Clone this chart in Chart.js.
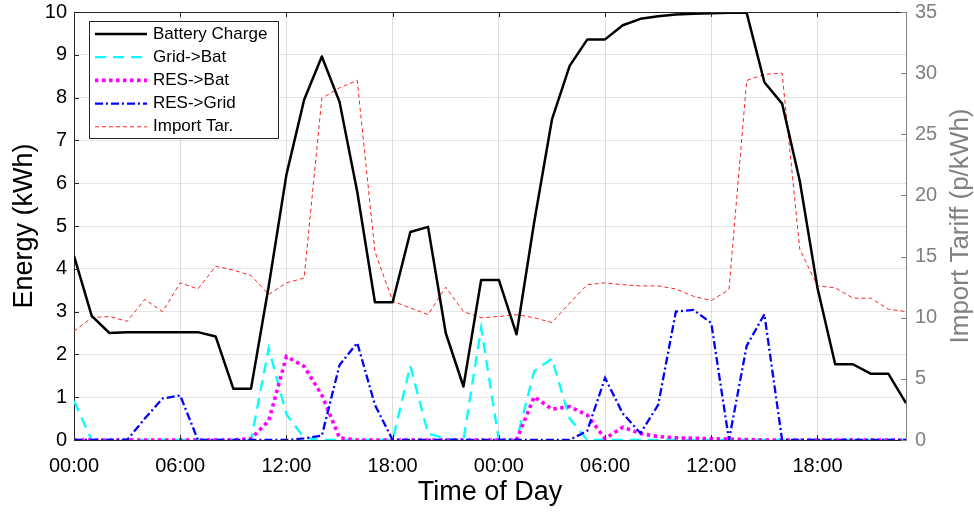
<!DOCTYPE html>
<html>
<head>
<meta charset="utf-8">
<title>Battery schedule</title>
<script src="https://cdn.jsdelivr.net/npm/chart.js@4.4.1/dist/chart.umd.min.js"></script>
<style>
  html, body { margin: 0; padding: 0; background: #fff; }
  #wrap { width: 974px; height: 512px; }
</style>
</head>
<body>
<div id="wrap"><canvas id="chart" width="974" height="512"></canvas></div>
<script>
// --------------------------------------------------------------------------
// Data (hourly, two days)
// --------------------------------------------------------------------------
const hours = Array.from({ length: 48 }, (_, h) => h);
const hourTicks = [0, 6, 12, 18, 24, 30, 36, 42];
const tickLabels = ['00:00', '06:00', '12:00', '18:00', '00:00', '06:00', '12:00', '18:00'];

const batteryCharge = [
  4.3, 2.9, 2.5, 2.52, 2.52, 2.52, 2.52, 2.52, 2.42, 1.2, 1.2, 3.6,
  6.2, 7.95, 8.96, 7.9, 5.8, 3.22, 3.22, 4.86, 4.98, 2.5, 1.25, 3.74,
  3.74, 2.47, 5.1, 7.49, 8.74, 9.36, 9.36, 9.69, 9.84, 9.9, 9.94, 9.96,
  9.97, 9.98, 9.98, 8.36, 7.86, 6.05, 3.55, 1.77, 1.77, 1.55, 1.55, 0.86
];
const gridToBat = [
  0.91, 0, 0, 0, 0, 0, 0, 0, 0, 0, 0, 2.14,
  0.6, 0.05, 0, 0, 0, 0, 0, 1.73, 0.15, 0.03, 0, 2.62,
  0, 0, 1.61, 1.9, 0.5, 0, 0, 0, 0, 0, 0, 0,
  0, 0, 0, 0, 0, 0, 0, 0, 0, 0, 0, 0
];
const resToBat = [
  0, 0, 0, 0, 0, 0, 0, 0, 0, 0, 0.03, 0.45,
  1.95, 1.72, 1.05, 0.05, 0, 0, 0, 0, 0, 0, 0, 0,
  0, 0, 1.01, 0.72, 0.78, 0.58, 0.03, 0.3, 0.15, 0.08, 0.05, 0.04,
  0.03, 0.02, 0.01, 0, 0, 0, 0, 0, 0, 0, 0, 0
];
const resToGrid = [
  0, 0, 0, 0, 0.5, 0.97, 1.04, 0, 0, 0, 0, 0,
  0, 0.04, 0.1, 1.75, 2.27, 0.82, 0, 0, 0, 0, 0, 0,
  0, 0, 0, 0, 0, 0.22, 1.45, 0.62, 0.16, 0.82, 3.0, 3.04,
  2.73, 0, 2.2, 2.94, 0, 0, 0, 0, 0, 0, 0, 0
];
const importTariff = [
  8.9, 10.0, 10.1, 9.7, 11.5, 10.5, 12.85, 12.35, 14.2, 13.9, 13.45, 11.9,
  12.85, 13.25, 27.95, 28.8, 29.4, 15.4, 11.35, 10.8, 10.25, 12.5, 10.5, 10.0,
  10.1, 10.25, 10.0, 9.6, 11.2, 12.7, 12.85, 12.7, 12.6, 12.6, 12.35, 11.75,
  11.4, 12.3, 29.4, 29.9, 30.0, 15.6, 12.6, 12.45, 11.6, 11.6, 10.7, 10.5
];

const FONT = "'Liberation Sans', Arial, Helvetica, sans-serif";
const AXIS_DARK = '#262626';
const AXIS_GREY = '#808080';

const pts = (arr) => arr.map((v, i) => ({ x: hours[i], y: v }));

// legend box inside the plot + inward ticks + box frame + right title
const matlabLook = {
  id: 'matlabLook',
  afterDraw(chart) {
    const { ctx, chartArea: a, scales } = chart;
    ctx.save();

    // top frame line
    ctx.strokeStyle = AXIS_DARK;
    ctx.lineWidth = 1;
    ctx.beginPath();
    ctx.moveTo(a.left, a.top + 0.5);
    ctx.lineTo(a.right, a.top + 0.5);
    ctx.stroke();

    // inward tick marks
    const tl = 5;
    ctx.beginPath();
    scales.x.ticks.forEach(t => {
      const px = Math.round(scales.x.getPixelForValue(t.value)) + 0.5;
      ctx.moveTo(px, a.bottom); ctx.lineTo(px, a.bottom - tl);
      ctx.moveTo(px, a.top); ctx.lineTo(px, a.top + tl);
    });
    scales.y.ticks.forEach(t => {
      const py = Math.round(scales.y.getPixelForValue(t.value)) + 0.5;
      ctx.moveTo(a.left, py); ctx.lineTo(a.left + tl, py);
    });
    ctx.stroke();
    ctx.strokeStyle = AXIS_GREY;
    ctx.beginPath();
    scales.y2.ticks.forEach(t => {
      const py = Math.round(scales.y2.getPixelForValue(t.value)) + 0.5;
      ctx.moveTo(a.right, py); ctx.lineTo(a.right - tl, py);
    });
    ctx.stroke();

    // right axis title, reading upwards like the left one
    ctx.fillStyle = AXIS_GREY;
    ctx.font = `26px ${FONT}`;
    ctx.textAlign = 'center';
    ctx.textBaseline = 'middle';
    ctx.translate(scales.y2.right - 13, (a.top + a.bottom) / 2);
    ctx.rotate(-Math.PI / 2);
    ctx.fillText('Import Tariff (p/kWh)', 0, 0);
    ctx.restore();

    // legend
    ctx.save();
    const bx = a.left + 15, by = a.top + 9, bw = 189, bh = 117;
    ctx.fillStyle = '#fff';
    ctx.fillRect(bx, by, bw, bh);
    ctx.strokeStyle = AXIS_DARK;
    ctx.lineWidth = 1;
    ctx.strokeRect(bx + 0.5, by + 0.5, bw, bh);
    ctx.font = `17px ${FONT}`;
    ctx.textAlign = 'left';
    ctx.textBaseline = 'middle';
    chart.data.datasets.forEach((ds, i) => {
      const ry = by + 13 + i * 23.2;
      ctx.save();
      ctx.strokeStyle = ds.borderColor;
      ctx.lineWidth = ds.borderWidth;
      ctx.setLineDash(ds.borderDash || []);
      ctx.beginPath();
      ctx.moveTo(bx + 6, ry);
      ctx.lineTo(bx + 58, ry);
      ctx.stroke();
      ctx.restore();
      ctx.fillStyle = '#000';
      ctx.fillText(ds.label, bx + 64, ry);
    });
    ctx.restore();
  }
};

new Chart(document.getElementById('chart'), {
  type: 'line',
  data: {
    datasets: [
      { label: 'Battery Charge', data: pts(batteryCharge), yAxisID: 'y', order: 0,
        borderColor: '#000000', borderWidth: 2.5, borderJoinStyle: 'round' },
      { label: 'Grid->Bat', data: pts(gridToBat), yAxisID: 'y', order: 3,
        borderColor: '#00FFFF', borderWidth: 2.3, borderDash: [11, 7] },
      { label: 'RES->Bat', data: pts(resToBat), yAxisID: 'y', order: 2,
        borderColor: '#FF00FF', borderWidth: 3.6, borderDash: [3.5, 3.5] },
      { label: 'RES->Grid', data: pts(resToGrid), yAxisID: 'y', order: 1,
        borderColor: '#0000FF', borderWidth: 2.3, borderDash: [8, 3, 2, 3] },
      { label: 'Import Tar.', data: pts(importTariff), yAxisID: 'y2', order: 4,
        borderColor: '#FF2020', borderWidth: 1, borderDash: [4, 3] },
    ]
  },
  options: {
    responsive: false,
    animation: false,
    devicePixelRatio: 1,
    elements: { point: { radius: 0 }, line: { tension: 0 } },
    layout: { padding: { top: 12, left: 0, right: 0, bottom: 0 } },
    plugins: { legend: { display: false }, tooltip: { enabled: false } },
    scales: {
      x: {
        type: 'linear', min: 0, max: 47,
        afterBuildTicks: s => { s.ticks = hourTicks.map(v => ({ value: v })); },
        afterFit: s => { s.height = 72; s.paddingLeft = 0; s.paddingRight = 0; },
        ticks: { callback: (v, i) => tickLabels[i], color: '#000', padding: 14,
                 maxRotation: 0, autoSkip: false, font: { family: FONT, size: 20 } },
        grid: { color: 'rgba(0,0,0,0.13)', drawTicks: false },
        border: { color: AXIS_DARK },
        title: { display: true, text: 'Time of Day', color: '#000',
                 font: { family: FONT, size: 27 }, padding: { top: 0, bottom: 3 } }
      },
      y: {
        position: 'left', min: 0, max: 10,
        afterFit: s => { s.width = 74; s.paddingTop = 0; s.paddingBottom = 0; },
        ticks: { stepSize: 1, color: '#000', padding: 7, font: { family: FONT, size: 20 } },
        grid: { color: 'rgba(0,0,0,0.10)', drawTicks: false },
        border: { color: AXIS_DARK },
        title: { display: true, text: 'Energy (kWh)', color: '#000',
                 font: { family: FONT, size: 27 }, padding: { top: 8, bottom: 0 } }
      },
      y2: {
        position: 'right', min: 0, max: 35,
        afterFit: s => { s.width = 68; s.paddingTop = 0; s.paddingBottom = 0; },
        ticks: { stepSize: 5, color: AXIS_GREY, padding: 9, font: { family: FONT, size: 20 } },
        grid: { drawOnChartArea: false, drawTicks: false },
        border: { color: AXIS_GREY }
      }
    }
  },
  plugins: [matlabLook]
});
</script>
</body>
</html>
